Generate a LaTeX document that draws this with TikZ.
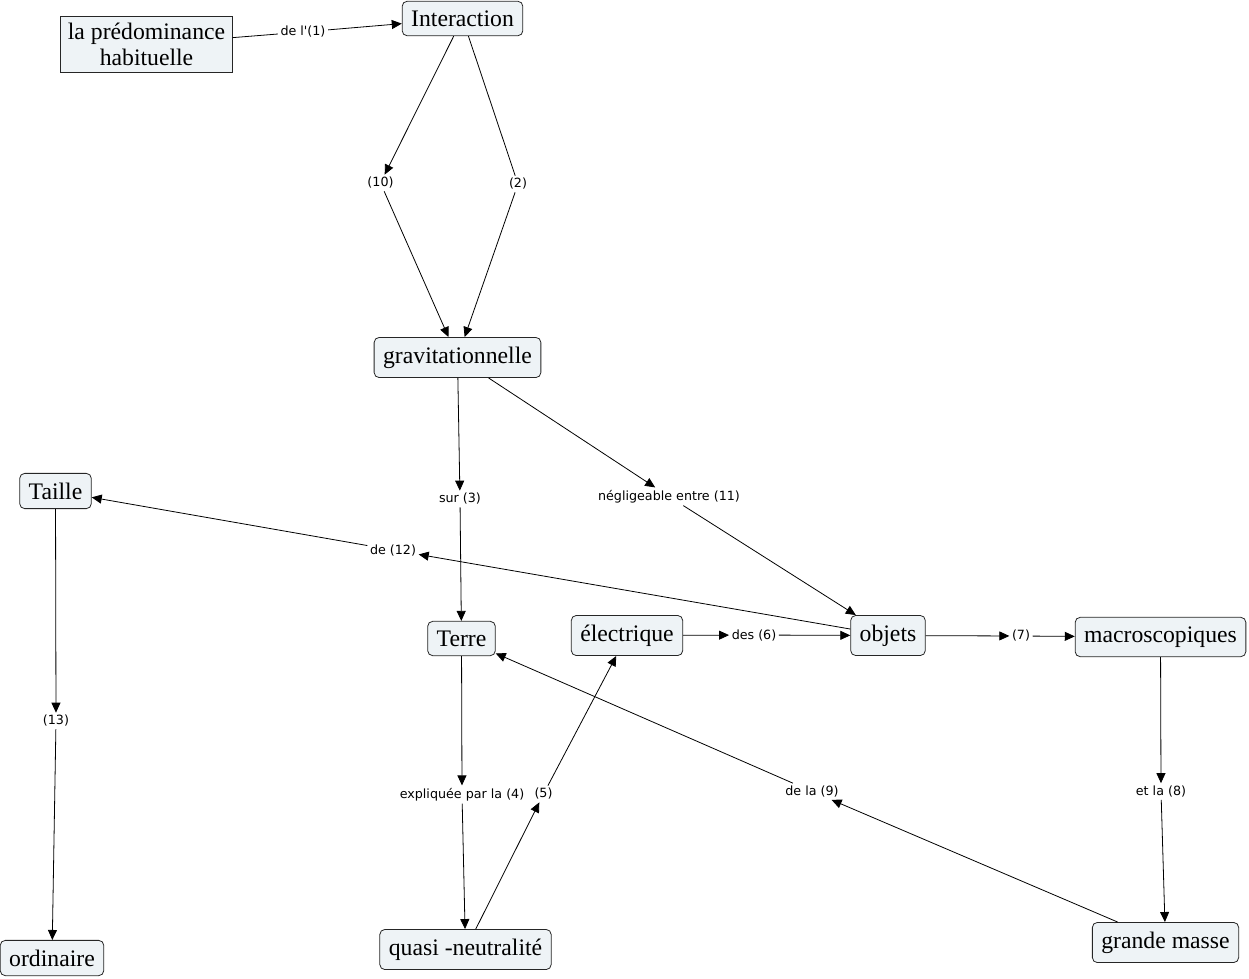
\documentclass[tikz,border=0pt]{standalone}
\usepackage{fontspec}
\setmainfont{Liberation Serif}
\newfontfamily\lblfont{DejaVu Sans}
\usetikzlibrary{arrows.meta}
\definecolor{nodefill}{RGB}{238,243,246}
\begin{document}
\begin{tikzpicture}[x=1pt,y=-1pt,
  concept/.style={draw=black!85, line width=0.8pt, fill=nodefill, rounded corners=5pt, inner xsep=9pt, inner ysep=9.3pt, font=\fontsize{23.7}{26}\selectfont},
  plainbox/.style={concept, rounded corners=0pt, inner xsep=7pt, inner ysep=7pt, align=center},
  linklabel/.style={inner sep=2.5pt, font=\lblfont\fontsize{12.7}{14}\selectfont},
  conn/.style={draw=black, line width=0.8pt},
  arr/.style={conn, -{Triangle[length=10pt,width=9pt]}}
]
\useasboundingbox (0,0) rectangle (1249,978);

% concepts
\node[plainbox] (predom) at (146.5,44.5) {la prédominance\\habituelle};
\node[concept] (inter) at (462.5,18.5) {Interaction};
\node[concept] (grav) at (457.5,357.5) {gravitationnelle};
\node[concept] (taille) at (55.5,491) {Taille};
\node[concept] (terre) at (461.5,638.5) {Terre};
\node[concept] (elec) at (627,635.5) {électrique};
\node[concept] (objets) at (888,635.5) {objets};
\node[concept] (macro) at (1160.5,637) {macroscopiques};
\node[concept] (ordin) at (52,958) {ordinaire};
\node[concept] (quasi) at (465.5,949.5) {quasi -neutralité};
\node[concept] (masse) at (1165.5,942.5) {grande masse};

% link labels
\node[linklabel] (l1) at (303,32) {de l'(1)};
\node[linklabel] (l10) at (380.5,183) {(10)};
\node[linklabel] (l2) at (518,184) {(2)};
\node[linklabel] (l3) at (460,499) {sur (3)};
\node[linklabel] (l11) at (669,496.5) {négligeable entre (11)};
\node[linklabel] (l12) at (393,550) {de (12)};
\node[linklabel] (l6) at (754,635) {des (6)};
\node[linklabel] (l7) at (1021,636) {(7)};
\node[linklabel] (l13) at (56,721) {(13)};
\node[linklabel] (l4) at (462,794.5) {expliquée par la (4)};
\node[linklabel] (l5) at (543.5,794) {(5)};
\node[linklabel] (l9) at (812,791.5) {de la (9)};
\node[linklabel] (l8) at (1161,791.5) {et la (8)};

% connectors
\draw[conn] (predom) -- (l1);
\draw[arr] (l1) -- (inter);
\draw[arr] (inter) -- (l10);
\draw[arr] (l10) -- (grav);
\draw[conn] (inter) -- (l2);
\draw[arr] (l2) -- (grav);
\draw[arr] (grav) -- (l3);
\draw[arr] (l3) -- (terre);
\draw[arr] (grav) -- (l11);
\draw[arr] (l11) -- (objets);
\draw[arr] (objets) -- (l12);
\draw[arr] (l12) -- (taille);
\draw[arr] (elec) -- (l6);
\draw[arr] (l6) -- (objets);
\draw[arr] (objets) -- (l7);
\draw[arr] (l7) -- (macro);
\draw[arr] (taille) -- (l13);
\draw[arr] (l13) -- (ordin);
\draw[arr] (terre) -- (l4);
\draw[arr] (l4) -- (quasi);
\draw[arr] (quasi) -- (l5);
\draw[arr] (l5) -- (elec);
\draw[arr] (masse) -- (l9);
\draw[arr] (l9) -- (terre);
\draw[arr] (macro) -- (l8);
\draw[arr] (l8) -- (masse);
\end{tikzpicture}
\end{document}
